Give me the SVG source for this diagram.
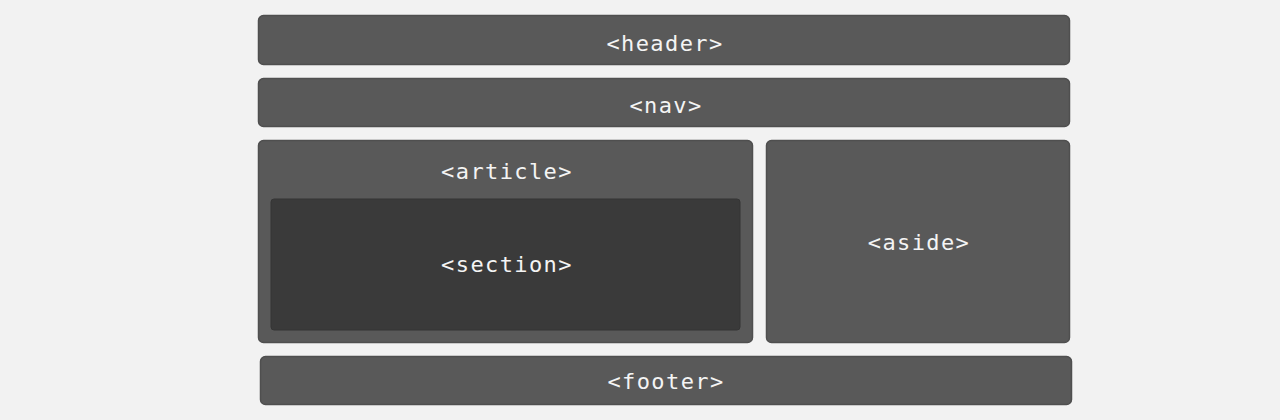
<svg xmlns="http://www.w3.org/2000/svg" width="1280" height="420" viewBox="0 0 1280 420">
<style>
.box{fill:#595959;stroke:#4f4f4f;stroke-width:1.5}
.inner{fill:#3a3a3a;stroke:#353535;stroke-width:1}
.lbl{font-family:"DejaVu Sans Mono",monospace;font-size:22px;letter-spacing:1.4px;fill:#f4f4f4;text-anchor:middle}
</style>
<rect width="1280" height="420" fill="#f2f2f2"/>
<g id="header"><rect class="box" x="258.5" y="15.5" width="811" height="49" rx="5"/><text class="lbl" x="665" y="51">&lt;header&gt;</text></g>
<g id="nav"><rect class="box" x="258.5" y="78.5" width="811" height="48" rx="5"/><text class="lbl" x="666" y="113">&lt;nav&gt;</text></g>
<g id="article"><rect class="box" x="258.5" y="140.5" width="494" height="202" rx="5"/><text class="lbl" x="507" y="179">&lt;article&gt;</text></g>
<g id="section"><rect class="inner" x="271" y="199" width="469" height="131" rx="3"/><text class="lbl" x="507" y="272">&lt;section&gt;</text></g>
<g id="aside"><rect class="box" x="766.5" y="140.5" width="303" height="202" rx="5"/><text class="lbl" x="919" y="250">&lt;aside&gt;</text></g>
<g id="footer"><rect class="box" x="260.5" y="356.5" width="811" height="48" rx="5"/><text class="lbl" x="666" y="389">&lt;footer&gt;</text></g>
<g id="connectors"/>
</svg>
